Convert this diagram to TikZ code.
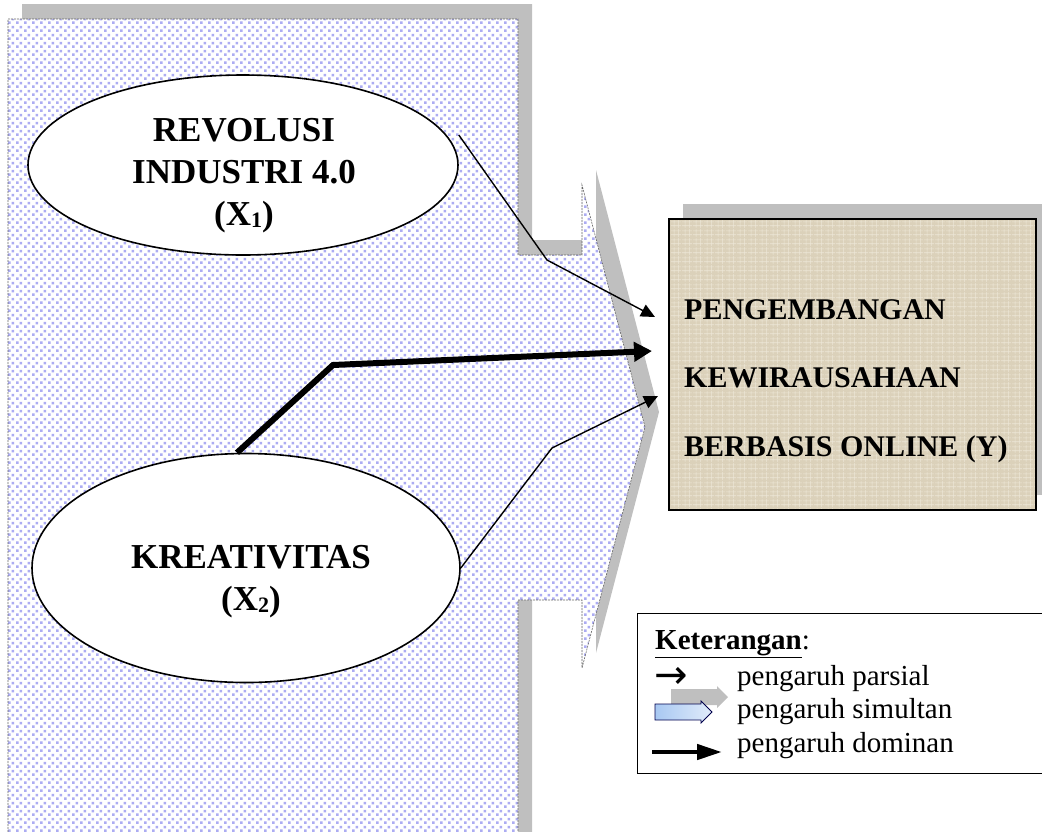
\documentclass[tikz,border=0pt]{standalone}
\usepackage{fontspec}
\setmainfont{Liberation Serif}
\newfontfamily\symfont{DejaVu Sans}
\usetikzlibrary{shapes.geometric, arrows.meta, patterns}

\definecolor{dotblue}{RGB}{172,172,242}
\definecolor{shadowgray}{RGB}{191,191,191}
\definecolor{linen}{RGB}{219,209,186}
\definecolor{linenlight}{RGB}{236,230,214}
\definecolor{lightblue}{RGB}{168,200,242}

\pgfdeclarepatternformonly{lavdots}{\pgfpointorigin}{\pgfqpoint{8pt}{8pt}}{\pgfqpoint{8pt}{8pt}}{%
\pgfpathrectangle{\pgfqpoint{0pt}{0pt}}{\pgfqpoint{3pt}{3pt}}%
\pgfpathrectangle{\pgfqpoint{4pt}{4pt}}{\pgfqpoint{3pt}{3pt}}%
\pgfusepath{fill}}

\pgfdeclarepatternformonly{linenweave}{\pgfpointorigin}{\pgfqpoint{11pt}{9pt}}{\pgfqpoint{11pt}{9pt}}{%
\pgfpathrectangle{\pgfqpoint{0pt}{2pt}}{\pgfqpoint{11pt}{0.8pt}}%
\pgfpathrectangle{\pgfqpoint{0pt}{6.5pt}}{\pgfqpoint{11pt}{0.5pt}}%
\pgfpathrectangle{\pgfqpoint{3pt}{0pt}}{\pgfqpoint{0.8pt}{9pt}}%
\pgfpathrectangle{\pgfqpoint{8pt}{0pt}}{\pgfqpoint{0.5pt}{9pt}}%
\pgfusepath{fill}}

\tikzstyle{callout} = [draw=black!60, 
line width=0.6pt, 
dash pattern=on 2pt off 1pt, 
preaction={fill=white},
pattern=lavdots, 
pattern color=dotblue]
\tikzstyle{shadowfill} = [fill=shadowgray, draw=none]
\tikzstyle{varellipse} = [ellipse, 
draw=black, 
line width=1.6pt, 
fill=white, 
inner sep=0pt]
\tikzstyle{vartext} = [font=\fontsize{35}{42}\selectfont\bfseries, 
align=center, 
inner sep=0pt]
\tikzstyle{targetbox} = [rectangle, 
draw=black, 
line width=1.8pt, 
preaction={fill=linen},
preaction={pattern=linenweave, pattern color=linenlight},
minimum width=367pt, 
minimum height=291pt]
\tikzstyle{targettext} = [font=\fontsize{30}{68.5}\selectfont\bfseries, 
align=left, 
inner sep=0pt]
\tikzstyle{legendtext} = [font=\fontsize{29}{34}\selectfont, 
anchor=base west, 
inner sep=0pt]
\tikzstyle{simarrow} = [draw=black!70!blue, line width=0.8pt, left color=lightblue, right color=lightblue!35]
\tikzstyle{arrow} = [line width=1.4pt, -{Triangle[length=14pt, width=13pt]}]
\tikzstyle{dominant} = [line width=6pt, -{Triangle[length=18pt, width=19pt]}]

\newcommand{\sub}[1]{\raisebox{-2pt}{\fontsize{22}{22}\selectfont #1}}

\begin{document}
\begin{tikzpicture}[x=1pt, y=-1pt]
\useasboundingbox (0,0) rectangle (1042,831);
\clip (0,0) rectangle (1042,831);

% simultaneous influence callout
\fill [shadowfill] (22,4) -- (532,4) -- (532,240) -- (596,240) -- (596,170) -- (659,412)
  -- (596,653) -- (596,585) -- (532,585) -- (532,850) -- (22,850) -- cycle;
\path [callout] (8,19) -- (518,19) -- (518,255) -- (582,255) -- (582,185) -- (645,427)
  -- (582,668) -- (582,600) -- (518,600) -- (518,850) -- (8,850) -- cycle;

\node (rev) [varellipse, minimum width=430pt, minimum height=180pt] at (243,165) {};
\node (revtext) [vartext] at (244,176) {REVOLUSI\\INDUSTRI 4.0\\(X\sub{1})};
\node (kre) [varellipse, minimum width=428pt, minimum height=229pt] at (246,568) {};
\node (kretext) [vartext] at (251,582) {KREATIVITAS\\(X\sub{2})};

\fill [shadowfill] (683,204) rectangle (1052,495);
\node (dev) [targetbox] at (852.5,364.5) {};
\node (devtext) [targettext, anchor=west] at (684,381) {PENGEMBANGAN\\KEWIRAUSAHAAN\\BERBASIS ONLINE (Y)};

\coordinate (b1) at (547,260);
\coordinate (t1) at (655,317);
\coordinate (b2) at (333,365);
\coordinate (t2) at (652,351);
\coordinate (b3) at (552,448);
\coordinate (t3) at (658,396);

\draw [arrow] ([yshift=30pt]rev.east) -- (b1) -- (t1);
\draw [dominant] ([xshift=-9pt]kre.north) -- (b2) -- (t2);
\draw [arrow] (kre.east) -- (b3) -- (t3);

% legend
\node (legend) [draw=black, line width=1.4pt, minimum width=420pt, minimum height=160pt, anchor=north west, inner sep=0pt] at (637,613) {};
\node (ket) [legendtext] at (655,649) {\underline{\textbf{Keterangan}}:};
\node (sym1) [legendtext, font=\symfont\fontsize{40}{40}\selectfont] at (654,688) {→};
\node (lbl1) [legendtext] at (737,685) {pengaruh parsial};
\node (lbl2) [legendtext] at (737,718) {pengaruh simultan};
\node (lbl3) [legendtext] at (737,752) {pengaruh dominan};

\fill [shadowfill] (671,689) -- (717,689) -- (717,686) -- (728,697) -- (717,708) -- (717,705) -- (671,705) -- cycle;
\draw [simarrow] (655,704) -- (701,704) -- (701,701) -- (712,712) -- (701,723) -- (701,720) -- (655,720) -- cycle;

\coordinate (d0) at (652,752);
\coordinate (d1) at (722,752);
\draw [line width=4.5pt, -{Triangle[length=25pt, width=15pt]}] (d0) -- (d1);

\end{tikzpicture}
\end{document}
